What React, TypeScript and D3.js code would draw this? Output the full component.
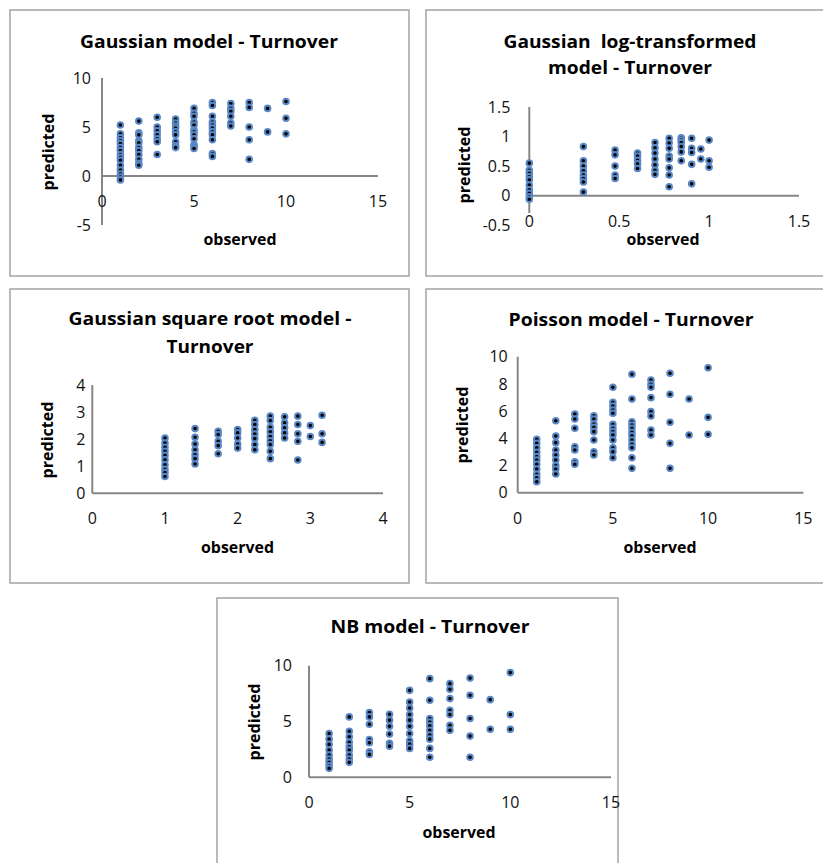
import React from 'react'
import * as d3 from 'd3'

// observed values (x) per column
const countObserved = [1, 2, 3, 4, 5, 6, 7, 8, 9, 10]
const logObserved = [0, 0.301, 0.477, 0.602, 0.699, 0.778, 0.845, 0.903, 0.954, 1]
const sqrtObserved = [1, 1.414, 1.732, 2, 2.236, 2.449, 2.646, 2.828, 3, 3.162]

// predicted values, one list per observed column
const gaussianPredicted = [
  [5.2, 4.3, 3.9, 3.6, 3.3, 2.9, 2.6, 2.2, 1.9, 1.6, 1.1, 0.6, 0.2, -0.1, -0.4],
  [5.6, 4.4, 4.2, 3.6, 3.4, 2.9, 2.6, 2.2, 1.7, 1.3, 1.1],
  [6.0, 5.0, 4.6, 4.2, 3.8, 3.5, 2.2],
  [5.8, 5.4, 5.1, 4.9, 4.5, 4.2, 3.5, 3.1, 2.9],
  [6.9, 6.4, 6.1, 5.5, 5.2, 4.7, 4.5, 4.2, 3.8, 3.2, 3.0, 2.8],
  [7.5, 7.2, 6.1, 5.5, 5.2, 4.9, 4.5, 4.2, 3.7, 2.3, 2.0],
  [7.4, 6.9, 6.6, 6.1, 5.4, 5.1],
  [7.5, 7.0, 5.0, 3.7, 1.7],
  [6.9, 4.5],
  [7.6, 5.9, 4.3],
]

const logPredicted = [
  [0.55, 0.43, 0.38, 0.32, 0.27, 0.18, 0.1, 0.04, -0.02, -0.06],
  [0.83, 0.59, 0.5, 0.42, 0.35, 0.29, 0.23, 0.06],
  [0.77, 0.69, 0.5, 0.35, 0.29],
  [0.72, 0.67, 0.6, 0.54, 0.46],
  [0.9, 0.81, 0.72, 0.62, 0.52, 0.43, 0.36],
  [0.97, 0.89, 0.8, 0.67, 0.62, 0.47, 0.35, 0.15],
  [0.98, 0.94, 0.9, 0.83, 0.74, 0.59],
  [0.97, 0.8, 0.73, 0.53, 0.2],
  [0.79, 0.62],
  [0.94, 0.59, 0.48],
]

const sqrtPredicted = [
  [2.04, 1.86, 1.7, 1.55, 1.4, 1.24, 1.05, 0.89, 0.77, 0.62],
  [2.39, 2.07, 1.82, 1.61, 1.42, 1.28, 1.08],
  [2.29, 2.17, 1.92, 1.76, 1.46],
  [2.35, 2.23, 2.04, 1.82, 1.67],
  [2.7, 2.54, 2.35, 2.19, 2.02, 1.8, 1.61],
  [2.85, 2.69, 2.44, 2.27, 2.1, 1.94, 1.8, 1.55, 1.28],
  [2.83, 2.6, 2.42, 2.23, 2.04],
  [2.85, 2.54, 2.2, 1.92, 1.23],
  [2.5, 2.1],
  [2.88, 2.2, 1.88],
]

const poissonPredicted = [
  [3.93, 3.63, 3.31, 2.97, 2.65, 2.4, 2.09, 1.74, 1.35, 1.1, 0.81],
  [5.29, 4.17, 3.68, 3.14, 2.77, 2.4, 1.99, 1.74, 1.38],
  [5.79, 5.42, 4.74, 3.38, 3.14, 2.28, 2.09],
  [5.66, 5.42, 5.05, 4.81, 4.49, 3.88, 3.01, 2.77],
  [7.75, 6.65, 6.38, 6.08, 5.84, 5.03, 4.74, 4.49, 4.24, 3.88, 3.31, 3.01, 2.57],
  [8.71, 6.89, 5.22, 4.98, 4.74, 4.44, 4.19, 3.88, 3.56, 3.31, 2.57, 1.79],
  [8.29, 7.97, 7.75, 6.99, 5.96, 5.64, 4.61, 4.24],
  [8.78, 7.24, 5.18, 3.63, 1.79],
  [6.89, 4.24],
  [9.19, 5.54, 4.29],
]

const nbPredicted = [
  [3.93, 3.42, 2.95, 2.44, 1.99, 1.63, 1.34, 1.04, 0.8],
  [5.41, 4.13, 3.63, 3.13, 2.73, 2.44, 1.99, 1.63, 1.34],
  [5.8, 5.41, 4.76, 3.39, 3.09, 2.29, 2.05],
  [5.65, 5.12, 4.58, 3.87, 3.04, 2.79],
  [7.79, 6.75, 6.21, 5.62, 5.12, 4.58, 3.93, 3.27, 2.97, 2.59],
  [8.84, 6.9, 5.27, 4.96, 4.61, 4.22, 3.78, 3.42, 2.59, 1.79],
  [8.39, 7.88, 7.05, 6.01, 5.62, 4.67, 4.22],
  [8.89, 7.35, 5.27, 3.69, 1.79],
  [6.96, 4.31],
  [9.38, 5.62, 4.31],
]

// tick labels
const countTicks = [0, 5, 10, 15]
const countYTicks = [0, 2, 4, 6, 8, 10]
const gaussianYTicks = [-5, 0, 5, 10]
const logTicks = [0, 0.5, 1, 1.5]
const logYTicks = [-0.5, 0, 0.5, 1, 1.5]
const sqrtTicks = [0, 1, 2, 3, 4]
const nbYTicks = [0, 5, 10]

const FONT = '"Open Sans", "Liberation Sans", sans-serif'
const AXIS_COLOR = '#868686'
const BORDER_COLOR = '#a3a3a3'

type Panel = {
  key: string
  box: [number, number, number, number]
  title: string[]
  titleWidths: number[]
  titleX: number
  titleY: number[]
  observed: number[]
  predicted: number[][]
  xDomain: [number, number]
  xRange: [number, number]
  yDomain: [number, number]
  yRange: [number, number]
  xTicks: number[]
  yTicks: number[]
  yGap: number
  yAxisEnd?: number
  predictedPos: [number, number]
  observedPos: [number, number]
}

const panels: Panel[] = [
  {
    key: 'gaussian',
    box: [10, 10, 399, 266],
    title: ['Gaussian model - Turnover'],
    titleWidths: [258],
    titleX: 209,
    titleY: [48],
    observed: countObserved,
    predicted: gaussianPredicted,
    xDomain: [0, 15],
    xRange: [102, 378],
    yDomain: [-5, 10],
    yRange: [225, 78],
    xTicks: countTicks,
    yTicks: gaussianYTicks,
    yGap: 11,
    predictedPos: [54, 152],
    observedPos: [240, 245],
  },
  {
    key: 'log',
    box: [426, 10, 420, 266],
    title: ['Gaussian  log-transformed', 'model - Turnover'],
    titleWidths: [253, 164],
    titleX: 630,
    titleY: [48, 74],
    observed: logObserved,
    predicted: logPredicted,
    xDomain: [0, 1.5],
    xRange: [529.3, 799],
    yDomain: [-0.5, 1.5],
    yRange: [225.2, 107],
    xTicks: logTicks,
    yTicks: logYTicks,
    yGap: 19,
    yAxisEnd: 213,
    predictedPos: [470, 165],
    observedPos: [663, 245],
  },
  {
    key: 'sqrt',
    box: [10, 289, 399, 294],
    title: ['Gaussian square root model -', 'Turnover'],
    titleWidths: [283, 87],
    titleX: 210,
    titleY: [325, 353],
    observed: sqrtObserved,
    predicted: sqrtPredicted,
    xDomain: [0, 4],
    xRange: [92.3, 383],
    yDomain: [0, 4],
    yRange: [493.3, 385],
    xTicks: sqrtTicks,
    yTicks: sqrtTicks,
    yGap: 7,
    predictedPos: [52.5, 440],
    observedPos: [237.5, 553],
  },
  {
    key: 'poisson',
    box: [426, 289, 420, 294],
    title: ['Poisson model - Turnover'],
    titleWidths: [245],
    titleX: 631,
    titleY: [326],
    observed: countObserved,
    predicted: poissonPredicted,
    xDomain: [0, 15],
    xRange: [517.7, 803.3],
    yDomain: [0, 10],
    yRange: [492.7, 356.7],
    xTicks: countTicks,
    yTicks: countYTicks,
    yGap: 10,
    predictedPos: [467.5, 425],
    observedPos: [660, 553],
  },
  {
    key: 'nb',
    box: [217, 598, 401, 300],
    title: ['NB model - Turnover'],
    titleWidths: [199],
    titleX: 430,
    titleY: [633],
    observed: countObserved,
    predicted: nbPredicted,
    xDomain: [0, 15],
    xRange: [309, 611],
    yDomain: [0, 10],
    yRange: [777.3, 665.7],
    xTicks: countTicks,
    yTicks: nbYTicks,
    yGap: 17,
    predictedPos: [260, 722],
    observedPos: [459, 838],
  },
]

function ScatterPanel({p}: {p: Panel}) {
  const x = d3.scaleLinear().domain(p.xDomain).range(p.xRange)
  const y = d3.scaleLinear().domain(p.yDomain).range(p.yRange)
  const x0 = x(0)
  const y0 = y(0)
  const points = p.observed.flatMap((obs, i) =>
    p.predicted[i].map((v) => ({obs, v})),
  )
  const [bx, by, bw, bh] = p.box

  return (
    <g>
      <rect
        x={bx}
        y={by}
        width={bw}
        height={bh}
        fill="#fff"
        stroke={BORDER_COLOR}
        strokeWidth={1.5}
      />
      {p.title.map((t, i) => (
        <text
          key={i}
          x={p.titleX}
          y={p.titleY[i]}
          textAnchor="middle"
          fontFamily={FONT}
          fontWeight="bold"
          fontSize={18.5}
          fill="#000"
          textLength={p.titleWidths[i]}
          lengthAdjust="spacingAndGlyphs"
          style={{whiteSpace: 'pre'}}
        >
          {t}
        </text>
      ))}
      {/* axis lines */}
      <line
        x1={x0}
        x2={x0}
        y1={y(p.yDomain[1])}
        y2={p.yAxisEnd ?? y(p.yDomain[0])}
        stroke={AXIS_COLOR}
        strokeWidth={2}
      />
      <line
        x1={x(p.xDomain[0])}
        x2={x(p.xDomain[1])}
        y1={y0}
        y2={y0}
        stroke={AXIS_COLOR}
        strokeWidth={2}
      />
      {/* tick labels */}
      {p.yTicks.map((t) => (
        <text
          key={'y' + t}
          x={x0 - p.yGap}
          y={y(t)}
          dy="0.36em"
          textAnchor="end"
          fontFamily={FONT}
          fontSize={16}
          fill="#111"
        >
          {t}
        </text>
      ))}
      {p.xTicks.map((t) => (
        <text
          key={'x' + t}
          x={x(t)}
          y={y0 + 31}
          textAnchor="middle"
          fontFamily={FONT}
          fontSize={16}
          fill="#111"
        >
          {t}
        </text>
      ))}
      {/* axis titles */}
      <text
        transform={`translate(${p.predictedPos[0]},${p.predictedPos[1]}) rotate(-90)`}
        textAnchor="middle"
        fontFamily={FONT}
        fontWeight="bold"
        fontSize={15.5}
        textLength={77}
        lengthAdjust="spacingAndGlyphs"
        fill="#000"
      >
        predicted
      </text>
      <text
        x={p.observedPos[0]}
        y={p.observedPos[1]}
        textAnchor="middle"
        fontFamily={FONT}
        fontWeight="bold"
        fontSize={15.5}
        textLength={73}
        lengthAdjust="spacingAndGlyphs"
        fill="#000"
      >
        observed
      </text>
      {/* markers */}
      {points.map((d, i) => (
        <circle
          key={i}
          cx={x(d.obs)}
          cy={y(d.v)}
          r={2.8}
          fill="#000"
          stroke="#5a88c6"
          strokeWidth={2}
        />
      ))}
    </g>
  )
}

export default function App() {
  return (
    <svg
      width={823}
      height={863}
      style={{position: 'absolute', left: 0, top: 0, background: '#fff'}}
    >
      {panels.map((p) => (
        <ScatterPanel key={p.key} p={p} />
      ))}
    </svg>
  )
}
